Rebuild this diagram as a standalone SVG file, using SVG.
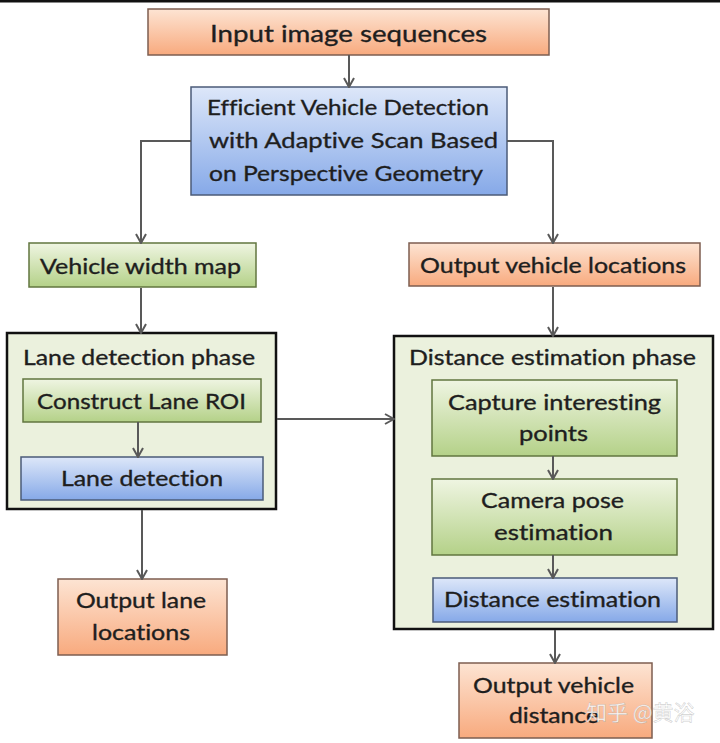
<svg xmlns="http://www.w3.org/2000/svg" width="720" height="743" viewBox="0 0 720 743">
<defs>
<linearGradient id="gOrange" x1="0" y1="0" x2="0" y2="1">
<stop offset="0" stop-color="#fde4d3"/><stop offset="1" stop-color="#f8aa7e"/>
</linearGradient>
<linearGradient id="gBlue" x1="0" y1="0" x2="0" y2="1">
<stop offset="0" stop-color="#dde7f9"/><stop offset="1" stop-color="#86a9e8"/>
</linearGradient>
<linearGradient id="gGreen" x1="0" y1="0" x2="0" y2="1">
<stop offset="0" stop-color="#eff5e2"/><stop offset="1" stop-color="#b4d188"/>
</linearGradient>
<marker id="arr" viewBox="-1 -7 11 14" refX="9" refY="0" markerWidth="11" markerHeight="14" markerUnits="userSpaceOnUse" orient="auto">
<path d="M0,-5 L9,0 L0,5" fill="none" stroke="#595959" stroke-width="2"/>
</marker>
</defs>
<style>
.t{font-family:Lato,"Open Sans","Liberation Sans",sans-serif;font-size:21px;fill:#1e1e1e;stroke:#1e1e1e;stroke-width:0.35;font-variant-ligatures:none;text-anchor:start}
.big{font-size:24px}
.mid{font-size:22px}
.or{fill:url(#gOrange);stroke:#7d5e50;stroke-width:1.5}
.bl{fill:url(#gBlue);stroke:#4b5b78;stroke-width:1.5}
.gr{fill:url(#gGreen);stroke:#62763f;stroke-width:1.5}
.ph{fill:#ebf1dd;stroke:#111;stroke-width:2.5}
.c{fill:none;stroke:#595959;stroke-width:2;marker-end:url(#arr)}
.wm{font-family:"Noto Sans CJK SC","Noto Sans",sans-serif;font-size:21px;fill:#ffffff;fill-opacity:0.85;stroke:#8a8a8a;stroke-opacity:0.4;stroke-width:0.6}
</style>
<rect x="0" y="0" width="720" height="743" fill="#ffffff"/>
<rect x="0" y="0" width="720" height="2.5" fill="#111"/>

<g id="input">
<rect class="or" x="148" y="9" width="401" height="46"/>
<text class="t big" x="210" y="42" textLength="277" lengthAdjust="spacingAndGlyphs">Input image sequences</text>
</g>

<g id="evd">
<rect class="bl" x="191" y="87" width="316" height="108"/>
<text class="t mid" x="207" y="115" textLength="282" lengthAdjust="spacingAndGlyphs">Efficient Vehicle Detection</text>
<text class="t mid" x="209" y="148" textLength="289" lengthAdjust="spacingAndGlyphs">with Adaptive Scan Based</text>
<text class="t mid" x="209" y="181" textLength="274" lengthAdjust="spacingAndGlyphs">on Perspective Geometry</text>
</g>

<g id="vwm">
<rect class="gr" x="29" y="243" width="227" height="44"/>
<text class="t" x="40" y="274" textLength="201" lengthAdjust="spacingAndGlyphs">Vehicle width map</text>
</g>

<g id="ovl">
<rect class="or" x="409" y="243" width="291" height="43"/>
<text class="t" x="420" y="273" textLength="266" lengthAdjust="spacingAndGlyphs">Output vehicle locations</text>
</g>

<g id="lanephase">
<rect class="ph" x="7" y="333" width="269" height="176"/>
<text class="t" x="23" y="365" textLength="232" lengthAdjust="spacingAndGlyphs">Lane detection phase</text>
</g>

<g id="roi">
<rect class="gr" x="23" y="379" width="238" height="43"/>
<text class="t" x="37" y="409" textLength="209" lengthAdjust="spacingAndGlyphs">Construct Lane ROI</text>
</g>

<g id="lanedet">
<rect class="bl" x="21" y="457" width="242" height="43"/>
<text class="t" x="61" y="486" textLength="162" lengthAdjust="spacingAndGlyphs">Lane detection</text>
</g>

<g id="distphase">
<rect class="ph" x="394" y="336" width="319" height="293"/>
<text class="t" x="409" y="365" textLength="287" lengthAdjust="spacingAndGlyphs">Distance estimation phase</text>
</g>

<g id="capture">
<rect class="gr" x="432" y="380" width="245" height="76"/>
<text class="t" x="448" y="410" textLength="213" lengthAdjust="spacingAndGlyphs">Capture interesting</text>
<text class="t" x="519" y="441" textLength="69" lengthAdjust="spacingAndGlyphs">points</text>
</g>

<g id="camera">
<rect class="gr" x="432" y="479" width="245" height="76"/>
<text class="t" x="481" y="508" textLength="143" lengthAdjust="spacingAndGlyphs">Camera pose</text>
<text class="t" x="494" y="540" textLength="119" lengthAdjust="spacingAndGlyphs">estimation</text>
</g>

<g id="distest">
<rect class="bl" x="433" y="578" width="244" height="44"/>
<text class="t" x="444" y="607" textLength="217" lengthAdjust="spacingAndGlyphs">Distance estimation</text>
</g>

<g id="olane">
<rect class="or" x="58" y="579" width="169" height="76"/>
<text class="t" x="76" y="608" textLength="130" lengthAdjust="spacingAndGlyphs">Output lane</text>
<text class="t" x="92" y="640" textLength="98" lengthAdjust="spacingAndGlyphs">locations</text>
</g>

<g id="odist">
<rect class="or" x="459" y="663" width="193" height="75"/>
<text class="t" x="473" y="693" textLength="161" lengthAdjust="spacingAndGlyphs">Output vehicle</text>
<text class="t" x="509" y="723" textLength="90" lengthAdjust="spacingAndGlyphs">distance</text>
</g>

<g id="connectors">
<path class="c" d="M349,55 V87"/>
<path class="c" d="M191,141 H141 V243"/>
<path class="c" d="M507,141 H553 V243"/>
<path class="c" d="M141,288 V333"/>
<path class="c" d="M138,422 V457"/>
<path class="c" d="M142,510 V579"/>
<path class="c" d="M277,419 H394"/>
<path class="c" d="M553,287 V336"/>
<path class="c" d="M553,456 V479"/>
<path class="c" d="M553,555 V578"/>
<path class="c" d="M555,630 V663"/>
</g>

<text class="wm" x="586" y="720">知乎 @黄浴</text>
</svg>
